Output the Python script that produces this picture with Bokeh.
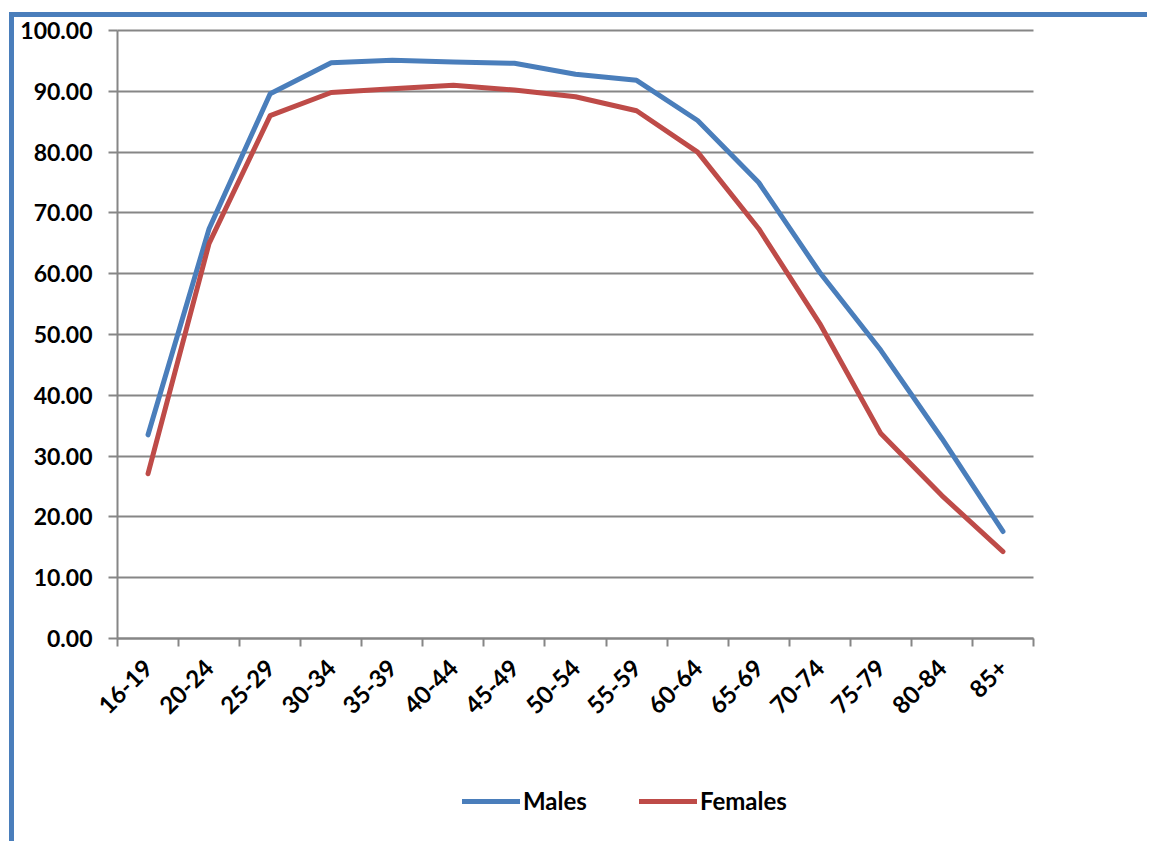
import math
from bokeh.plotting import figure
from bokeh.models import (FixedTicker, NumeralTickFormatter, Legend, LegendItem, Range1d,
                          LinearAxis, Grid)
from bokeh.embed import file_html
from bokeh.resources import INLINE

categories = ["16-19", "20-24", "25-29", "30-34", "35-39", "40-44", "45-49",
              "50-54", "55-59", "60-64", "65-69", "70-74", "75-79", "80-84", "85+"]
males = [33.5, 67.4, 89.6, 94.7, 95.1, 94.8, 94.6, 92.8, 91.8, 85.2, 75.0, 60.2, 47.4, 32.9, 17.6]
females = [27.1, 65.0, 86.0, 89.8, 90.4, 91.0, 90.2, 89.1, 86.8, 80.0, 67.4, 51.8, 33.7, 23.5, 14.3]
y_ticks = [0, 10, 20, 30, 40, 50, 60, 70, 80, 90, 100]

FONT = "Lato"
BLUE = "#4a7ebb"
RED = "#be4b48"
GRID = "#868686"

# canvas / plot geometry in pixels
W, H = 1138, 829
TOP = 13                   # space above value 100
PLOT_LEFT = 103            # canvas x of the value axis
PLOT_W, PLOT_H = 916, 608  # pixel size of the value area
n = len(categories)
unit = PLOT_W / n
x_start = -PLOT_LEFT / unit
x_end = n + (W - PLOT_LEFT - PLOT_W) / unit
y_end = 100.0 + 100.0 * TOP / PLOT_H
y_start = -100.0 * (H - TOP - PLOT_H) / PLOT_H

xs = [i + 0.5 for i in range(n)]

p = figure(width=W, height=H, output_backend="svg", toolbar_location=None,
           x_range=Range1d(x_start, x_end), y_range=Range1d(y_start, y_end),
           x_axis_location=None, y_axis_location=None,
           min_border_left=0, min_border_right=0, min_border_top=0, min_border_bottom=0)
p.styles = {"border-left": f"5px solid {BLUE}", "border-top": f"5px solid {BLUE}",
            "margin-left": "9px", "margin-top": "12px"}
p.outline_line_color = None
p.background_fill_color = "white"
p.border_fill_color = "white"

# drop default grids
p.center = [r for r in p.center if not isinstance(r, Grid)]

grid = Grid(dimension=1, ticker=FixedTicker(ticks=y_ticks), cross_bounds=(0, n),
            grid_line_color=GRID, grid_line_width=2)
p.add_layout(grid)

rm = p.line(xs, males, line_color=BLUE, line_width=5, line_cap="round", line_join="round")
rf = p.line(xs, females, line_color=RED, line_width=5, line_cap="round", line_join="round")

# y axis at category position 0
yaxis = LinearAxis(fixed_location=0, bounds=(0, 100))
yaxis.ticker = FixedTicker(ticks=y_ticks)
yaxis.formatter = NumeralTickFormatter(format="0.00")
yaxis.axis_line_color = GRID
yaxis.axis_line_width = 2
yaxis.major_tick_line_color = GRID
yaxis.major_tick_line_width = 2
yaxis.major_tick_out = 9
yaxis.major_tick_in = 0
yaxis.minor_tick_line_color = None
yaxis.major_label_standoff = 16
yaxis.major_label_text_font = FONT
yaxis.major_label_text_font_style = "bold"
yaxis.major_label_text_font_size = "23px"
yaxis.major_label_text_color = "black"
p.add_layout(yaxis, "left")

# x axis at value 0: labels at centres, ticks at boundaries
xaxis = LinearAxis(fixed_location=0, bounds=(0, n))
xaxis.ticker = FixedTicker(ticks=xs, minor_ticks=list(range(n + 1)))
xaxis.major_label_overrides = {x: c for x, c in zip(xs, categories)}
xaxis.major_label_orientation = math.pi / 4
xaxis.axis_line_color = GRID
xaxis.axis_line_width = 2
xaxis.major_tick_line_color = None
xaxis.major_tick_out = 0
xaxis.major_tick_in = 0
xaxis.minor_tick_line_color = GRID
xaxis.minor_tick_line_width = 2
xaxis.minor_tick_out = 8
xaxis.minor_tick_in = 0
xaxis.major_label_standoff = 17
xaxis.major_label_text_font = FONT
xaxis.major_label_text_font_style = "bold"
xaxis.major_label_text_font_size = "24px"
xaxis.major_label_text_color = "black"
p.add_layout(xaxis, "below")

legend = Legend(items=[LegendItem(label="Males", renderers=[rm]),
                       LegendItem(label="Females", renderers=[rf])],
                location=(448, 31), orientation="horizontal",
                border_line_color=None, background_fill_alpha=0,
                padding=0, margin=0, spacing=52, glyph_width=58, label_standoff=3,
                label_text_font=FONT, label_text_font_style="bold",
                label_text_font_size="24px", label_text_color="black")
p.add_layout(legend, "center")

open("out.html", "w").write(file_html(p, INLINE))
